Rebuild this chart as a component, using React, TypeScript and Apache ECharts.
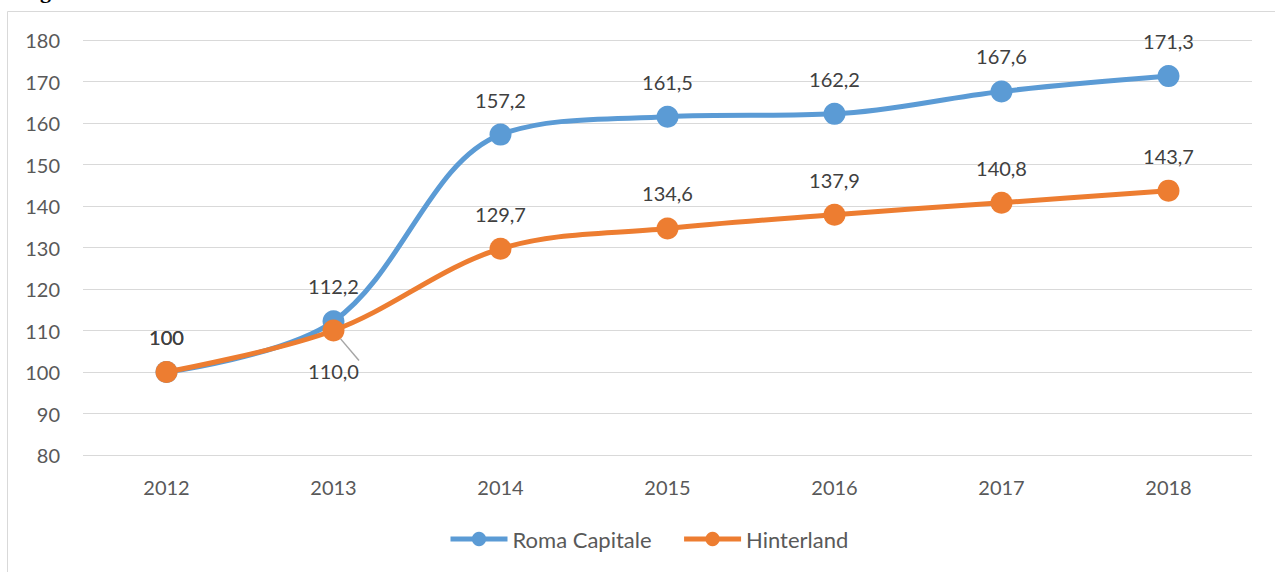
import React, { useEffect, useRef } from "react";
import * as echarts from "echarts";

const years = ["2012", "2013", "2014", "2015", "2016", "2017", "2018"];
const romaCapitale = [100, 112.2, 157.2, 161.5, 162.2, 167.6, 171.3];
const hinterland = [100, 110.0, 129.7, 134.6, 137.9, 140.8, 143.7];
const yTicks = { min: 80, max: 180, interval: 10 };

const FONT = "Lato, 'Open Sans', sans-serif";
const BLUE = "#5B9BD5";
const ORANGE = "#ED7D31";

const fmt = (p: any) =>
  p.dataIndex === 0 ? String(p.value) : Number(p.value).toFixed(1).replace(".", ",");

export default function App() {
  const ref = useRef<HTMLDivElement>(null);
  useEffect(() => {
    document.body.style.margin = "0";
    const chart = echarts.init(ref.current!, null, { renderer: "svg" });
    const labelBase = {
      show: true,
      position: "top" as const,
      distance: 14,
      color: "#404040",
      fontSize: 20,
      fontFamily: FONT,
      formatter: fmt,
    };
    chart.setOption({
      animation: false,
      backgroundColor: "#ffffff",
      graphic: [
        {
          type: "rect",
          shape: { x: 7.5, y: 11.5, width: 1400, height: 700 },
          style: { fill: "none", stroke: "#d9d9d9", lineWidth: 1 },
          silent: true,
        },
        {
          type: "text",
          x: 40,
          y: 1,
          style: {
            text: "g",
            fontSize: 22,
            fontWeight: "bold",
            fontFamily: "'Liberation Serif', serif",
            fill: "#000",
            textVerticalAlign: "bottom",
          },
          silent: true,
        },
      ],
      grid: { left: 83, right: 23, top: 40, bottom: 117, containLabel: false },
      legend: {
        bottom: 17,
        left: 443,
        itemWidth: 57,
        itemHeight: 18,
        itemGap: 30,
        lineStyle: { width: 5 },
        textStyle: { color: "#595959", fontSize: 22, fontFamily: FONT },
        data: ["Roma Capitale", "Hinterland"],
      },
      xAxis: {
        type: "category",
        data: years,
        boundaryGap: true,
        axisLine: { show: false },
        axisTick: { show: false },
        axisLabel: { color: "#595959", fontSize: 20, fontFamily: FONT, margin: 22 },
      },
      yAxis: {
        type: "value",
        min: yTicks.min,
        max: yTicks.max,
        interval: yTicks.interval,
        axisLine: { show: false },
        axisTick: { show: false },
        axisLabel: { color: "#595959", fontSize: 20, fontFamily: FONT, margin: 23 },
        splitLine: { lineStyle: { color: "#d9d9d9", width: 1 } },
      },
      series: [
        {
          name: "Roma Capitale",
          type: "line",
          data: romaCapitale,
          smooth: 0.35,
          symbol: "circle",
          symbolSize: 22,
          lineStyle: { color: BLUE, width: 5 },
          itemStyle: { color: BLUE },
          label: labelBase,
          z: 2,
        },
        {
          name: "Hinterland",
          type: "line",
          data: hinterland.map((v, i) =>
            i === 1
              ? {
                  value: v,
                  label: { position: "bottom", distance: 19 },
                  labelLine: { show: true, lineStyle: { color: "#a6a6a6", width: 1.5 } },
                }
              : v
          ),
          smooth: 0.35,
          symbol: "circle",
          symbolSize: 22,
          lineStyle: { color: ORANGE, width: 5 },
          itemStyle: { color: ORANGE },
          label: labelBase,
          z: 3,
        },
      ],
    });
    return () => chart.dispose();
  }, []);
  return <div ref={ref} style={{ width: 1275, height: 572 }} />;
}
